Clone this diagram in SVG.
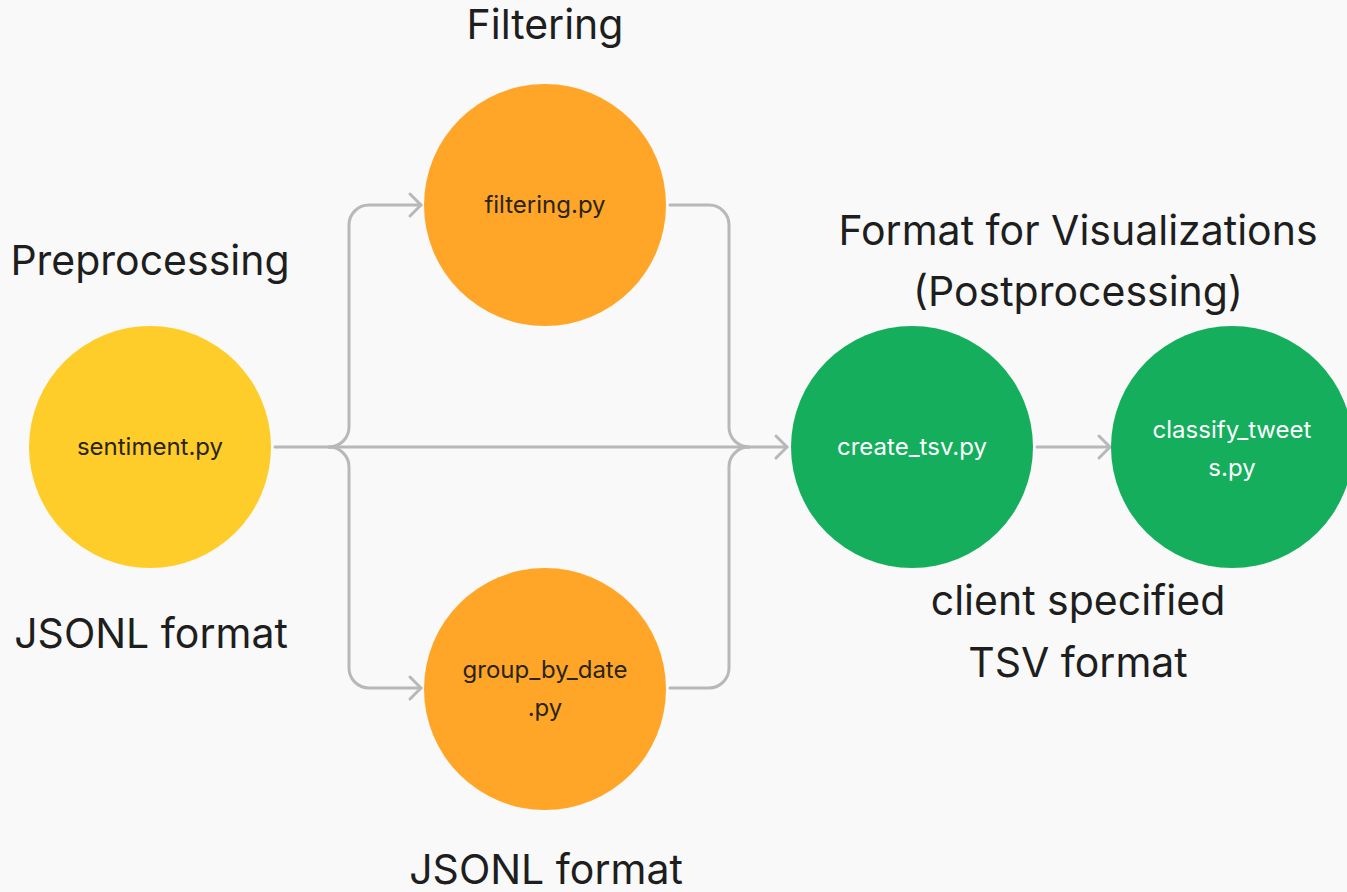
<svg xmlns="http://www.w3.org/2000/svg" width="1347" height="892" viewBox="0 0 1347 892">
<style>
.bg{fill:#f9f9f9}
.conn{fill:none;stroke:#b8b8b8;stroke-width:3;stroke-linecap:round;stroke-linejoin:round}
.h{font-family:Inter,"Liberation Sans",sans-serif;font-size:41px;fill:#1e1e1e;text-anchor:middle}
.l{font-family:Inter,"Liberation Sans",sans-serif;font-size:24px;text-anchor:middle}
.dk{fill:#2a2415}
.wt{fill:#ffffff}
.yel{fill:#ffcd29}
.org{fill:#ffa629}
.grn{fill:#14ae5c}
</style>
<defs>
<marker id="arr" markerUnits="userSpaceOnUse" markerWidth="30" markerHeight="30" viewBox="-15 -15 30 30" refX="0" refY="0" orient="auto">
<path d="M-11,-11 L0,0 L-11,11" fill="none" stroke="#b8b8b8" stroke-width="3" stroke-linecap="round" stroke-linejoin="round"/>
</marker>
</defs>
<rect class="bg" x="0" y="0" width="1347" height="892"/>
<g id="connectors">
<path class="conn" d="M275,447 H787" marker-end="url(#arr)"/>
<path class="conn" d="M329,447 A20,20 0 0 0 349,427 V225 A20,20 0 0 1 369,205 H421" marker-end="url(#arr)"/>
<path class="conn" d="M329,447 A20,20 0 0 1 349,467 V668 A20,20 0 0 0 369,688 H421" marker-end="url(#arr)"/>
<path class="conn" d="M670,205 H709 A20,20 0 0 1 729,225 V427 A20,20 0 0 0 749,447"/>
<path class="conn" d="M670,688 H709 A20,20 0 0 0 729,668 V467 A20,20 0 0 1 749,447"/>
<path class="conn" d="M1037,447 H1110" marker-end="url(#arr)"/>
</g>
<g id="sentiment">
<circle class="yel" cx="150" cy="447" r="121"/>
<text class="l dk" x="150" y="455">sentiment.py</text>
</g>
<g id="filtering">
<circle class="org" cx="545" cy="205" r="121"/>
<text class="l dk" x="545" y="213">filtering.py</text>
</g>
<g id="group_by_date">
<circle class="org" cx="545" cy="689" r="121"/>
<text class="l dk" x="545" y="678">group_by_date</text>
<text class="l dk" x="545" y="716">.py</text>
</g>
<g id="create_tsv">
<circle class="grn" cx="912" cy="447" r="121"/>
<text class="l wt" x="912" y="455">create_tsv.py</text>
</g>
<g id="classify_tweets">
<circle class="grn" cx="1232" cy="447" r="121"/>
<text class="l wt" x="1232" y="438">classify_tweet</text>
<text class="l wt" x="1232" y="476">s.py</text>
</g>
<g id="labels">
<text class="h" x="545" y="39">Filtering</text>
<text class="h" x="150" y="275">Preprocessing</text>
<text class="h" x="151" y="648">JSONL format</text>
<text class="h" x="1078" y="245">Format for Visualizations</text>
<text class="h" x="1078" y="306">(Postprocessing)</text>
<text class="h" x="1078" y="615">client specified</text>
<text class="h" x="1078" y="677">TSV format</text>
<text class="h" x="546" y="884">JSONL format</text>
</g>
</svg>
